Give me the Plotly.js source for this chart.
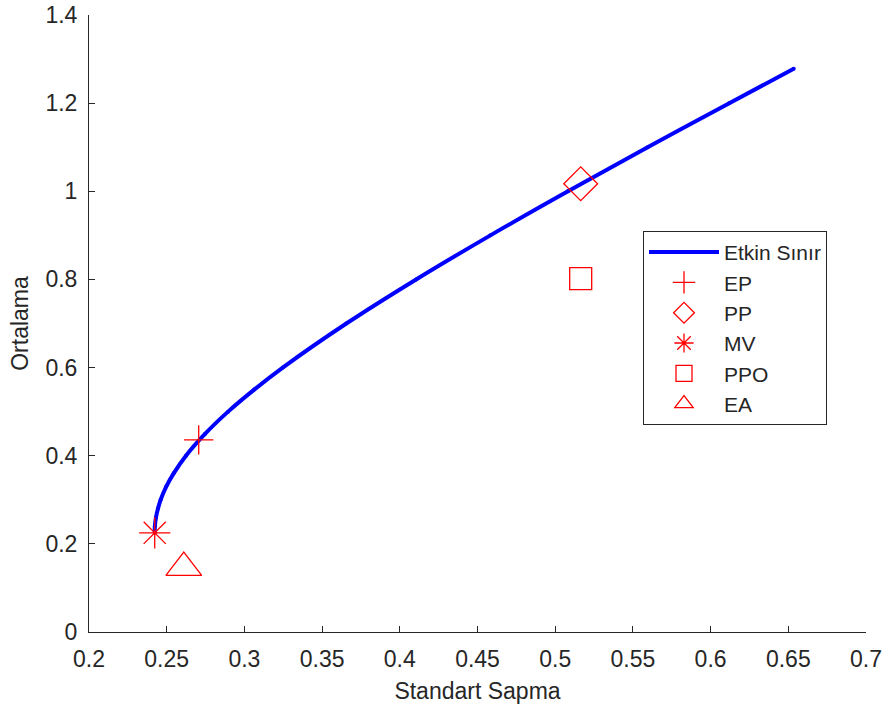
<!DOCTYPE html>
<html>
<head>
<meta charset="utf-8">
<script src="https://cdn.plot.ly/plotly-3.0.1.min.js"></script>
<style>
  html, body { margin: 0; padding: 0; background: #fff; }
  #chart { width: 889px; height: 716px; }
</style>
</head>
<body>
<div id="chart"></div>
<script>
// Efficient frontier: standard deviation (x) vs. mean return (y)
const frontierStd  = [0.2423, 0.2424, 0.2431, 0.2444, 0.2461, 0.2497, 0.2545, 0.2624, 0.2748,
                      0.2895, 0.3063, 0.3247, 0.3656, 0.4105, 0.4583, 0.5082, 0.5595, 0.6120, 0.6535];
const frontierMean = [0.225, 0.240, 0.260, 0.280, 0.300, 0.330, 0.360, 0.400, 0.450,
                      0.500, 0.550, 0.600, 0.700, 0.800, 0.900, 1.000, 1.100, 1.200, 1.278];

// Individual portfolios
const portfolioNames = ['EP', 'PP', 'MV', 'PPO', 'EA'];
const portfolioStd   = [0.2706, 0.5164, 0.2423, 0.5164, 0.2610];
const portfolioMean  = [0.436, 1.017, 0.225, 0.802, 0.146];

const frontierName = 'Etkin Sınır';

const axisColor = 'rgb(38,38,38)';
const red = 'rgb(255,0,0)';
const fontFamily = '"Liberation Sans", Arial, Helvetica, sans-serif';

const markerStyles = [
  { symbol: 'cross-thin-open',    size: 21 },
  { symbol: 'diamond-open',       size: 26 },
  { symbol: 'asterisk-open',      size: 26 },
  { symbol: 'square-open',        size: 22 },
  { symbol: 'triangle-up-open',   size: 31 }
];

const traces = [{
  x: frontierStd,
  y: frontierMean,
  name: frontierName,
  type: 'scatter',
  mode: 'lines+markers',
  line: { color: 'rgb(0,0,255)', width: 4, shape: 'spline' },
  marker: { color: 'rgb(0,0,255)', size: 4 },
  legendgroup: 'g0'
}];

portfolioNames.forEach((name, i) => {
  traces.push({
    x: [portfolioStd[i]],
    y: [portfolioMean[i]],
    name: name,
    type: 'scatter',
    mode: 'markers',
    marker: {
      symbol: markerStyles[i].symbol,
      size: markerStyles[i].size,
      color: red,
      line: { color: red, width: 1.3 }
    },
    legendgroup: 'g' + (i + 1)
  });
});

const axisCommon = {
  showline: true,
  linecolor: axisColor,
  linewidth: 1,
  mirror: false,
  showgrid: false,
  zeroline: false,
  ticks: 'inside',
  ticklen: 6,
  tickwidth: 1,
  tickcolor: axisColor,
  tickfont: { family: fontFamily, size: 23, color: axisColor }
};

const layout = {
  width: 889,
  height: 716,
  margin: { l: 89, r: 23, t: 15, b: 84 },
  paper_bgcolor: '#fff',
  plot_bgcolor: '#fff',
  showlegend: true,
  font: { family: fontFamily, color: axisColor },
  xaxis: Object.assign({}, axisCommon, {
    range: [0.2, 0.7],
    tickvals: [0.2, 0.25, 0.3, 0.35, 0.4, 0.45, 0.5, 0.55, 0.6, 0.65, 0.7],
    ticktext: ['0.2', '0.25', '0.3', '0.35', '0.4', '0.45', '0.5', '0.55', '0.6', '0.65', '0.7'],
    ticklabelstandoff: 6,
    title: { text: 'Standart Sapma', standoff: 12,
             font: { family: fontFamily, size: 23, color: axisColor } }
  }),
  yaxis: Object.assign({}, axisCommon, {
    range: [0, 1.4],
    tickvals: [0, 0.2, 0.4, 0.6, 0.8, 1, 1.2, 1.4],
    ticktext: ['0', '0.2', '0.4', '0.6', '0.8', '1', '1.2', '1.4'],
    ticklabelstandoff: 6,
    title: { text: 'Ortalama', standoff: 10,
             font: { family: fontFamily, size: 23, color: axisColor } }
  }),
  legend: {
    x: 0.713,
    y: 0.650,
    xanchor: 'left',
    yanchor: 'top',
    bgcolor: '#fff',
    bordercolor: axisColor,
    borderwidth: 1,
    itemwidth: 70,
    traceorder: 'grouped',
    tracegroupgap: 0,
    font: { family: fontFamily, size: 21, color: axisColor }
  }
};

Plotly.newPlot('chart', traces, layout, { displayModeBar: false, staticPlot: true });
</script>
</body>
</html>
